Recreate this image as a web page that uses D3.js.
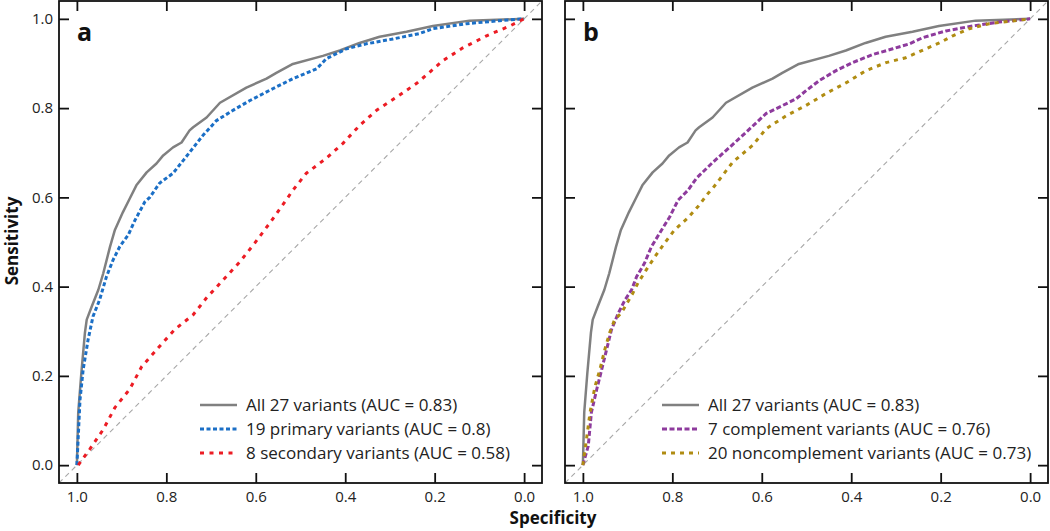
<!DOCTYPE html>
<html>
<head>
<meta charset="utf-8">
<script src="https://cdn.jsdelivr.net/npm/d3@7"></script>
<style>
  body { margin: 0; background: #fff; }
  text { font-family: "Open Sans", "Noto Sans", sans-serif; }
</style>
</head>
<body>
<div id="chart"></div>
<script>
// ROC curves, each point is [specificity, sensitivity]
var allVariants = [[1,0],[0.997,0.118],[0.99,0.207],[0.982,0.297],[0.978,0.326],[0.967,0.355],[0.952,0.393],[0.941,0.43],[0.926,0.489],[0.915,0.527],[0.897,0.567],[0.882,0.597],[0.867,0.627],[0.844,0.656],[0.822,0.676],[0.807,0.694],[0.785,0.712],[0.766,0.723],[0.748,0.75],[0.74,0.757],[0.71,0.779],[0.68,0.812],[0.621,0.846],[0.576,0.866],[0.554,0.879],[0.517,0.899],[0.45,0.917],[0.412,0.929],[0.368,0.946],[0.323,0.96],[0.263,0.971],[0.204,0.984],[0.122,0.996],[0,1]];

var primaryVariants = [[1,0],[0.993,0.147],[0.986,0.214],[0.975,0.281],[0.964,0.333],[0.949,0.371],[0.934,0.422],[0.919,0.46],[0.904,0.49],[0.885,0.516],[0.87,0.549],[0.848,0.59],[0.837,0.6],[0.815,0.632],[0.785,0.654],[0.762,0.683],[0.74,0.711],[0.718,0.739],[0.688,0.772],[0.651,0.795],[0.613,0.817],[0.561,0.844],[0.517,0.866],[0.464,0.888],[0.442,0.911],[0.397,0.933],[0.353,0.944],[0.293,0.955],[0.234,0.967],[0.204,0.978],[0.129,0.989],[0.055,0.996],[0,1]];

var secondaryVariants = [[0.997,0],[0.971,0.036],[0.941,0.08],[0.915,0.129],[0.882,0.17],[0.855,0.221],[0.818,0.263],[0.781,0.304],[0.74,0.337],[0.71,0.375],[0.673,0.415],[0.636,0.455],[0.602,0.498],[0.569,0.542],[0.535,0.59],[0.517,0.616],[0.487,0.654],[0.442,0.688],[0.405,0.721],[0.368,0.761],[0.33,0.795],[0.286,0.824],[0.241,0.855],[0.215,0.877],[0.182,0.906],[0.137,0.935],[0.084,0.962],[0.032,0.984],[0,1]];

var complementVariants = [[1,0],[0.988,0.043],[0.981,0.118],[0.969,0.17],[0.958,0.214],[0.947,0.259],[0.936,0.304],[0.921,0.34],[0.906,0.37],[0.891,0.393],[0.88,0.422],[0.862,0.453],[0.847,0.489],[0.824,0.527],[0.806,0.556],[0.787,0.594],[0.765,0.616],[0.746,0.643],[0.709,0.679],[0.672,0.712],[0.635,0.746],[0.59,0.788],[0.553,0.806],[0.523,0.821],[0.501,0.839],[0.471,0.862],[0.434,0.884],[0.397,0.902],[0.352,0.92],[0.307,0.933],[0.27,0.944],[0.24,0.958],[0.188,0.973],[0.129,0.984],[0.069,0.993],[0,1]];

var noncomplementVariants = [[1,0],[0.992,0.058],[0.984,0.118],[0.973,0.176],[0.962,0.214],[0.951,0.259],[0.94,0.297],[0.929,0.326],[0.914,0.341],[0.888,0.386],[0.877,0.408],[0.858,0.438],[0.839,0.467],[0.817,0.498],[0.795,0.527],[0.765,0.554],[0.743,0.579],[0.72,0.609],[0.709,0.621],[0.665,0.679],[0.62,0.717],[0.59,0.754],[0.545,0.783],[0.501,0.806],[0.456,0.833],[0.411,0.857],[0.367,0.884],[0.322,0.902],[0.278,0.913],[0.233,0.933],[0.203,0.946],[0.173,0.962],[0.136,0.978],[0.092,0.989],[0,1]];

var tickValues = [1.0, 0.8, 0.6, 0.4, 0.2, 0.0];

var panelA = [
    { label: "All 27 variants (AUC = 0.83)", data: allVariants, color: "#808080", dash: null, width: 2.5 },
    { label: "19 primary variants (AUC = 0.8)", data: primaryVariants, color: "#1b6fc6", dash: "4,2.5", width: 3 },
    { label: "8 secondary variants (AUC = 0.58)", data: secondaryVariants, color: "#ec1c24", dash: "4,5.5", width: 3 }
];
var panelB = [
    { label: "All 27 variants (AUC = 0.83)", data: allVariants, color: "#808080", dash: null, width: 2.5 },
    { label: "7 complement variants (AUC = 0.76)", data: complementVariants, color: "#8e3b9d", dash: "5,2.5", width: 3 },
    { label: "20 noncomplement variants (AUC = 0.73)", data: noncomplementVariants, color: "#b08c12", dash: "4,5", width: 3 }
];

var W = 1050, H = 531;
var svg = d3.select("#chart").append("svg")
    .attr("width", W)
    .attr("height", H);

var y = d3.scaleLinear().domain([-0.04, 1.04]).range([483, 1]);

function drawPanel(left, letter, series, legendX, showY) {
    var x = d3.scaleLinear().domain([1.04, -0.04]).range([left, left + 483]);
    var g = svg.append("g");

    // chance line, corner to corner
    g.append("line")
        .attr("x1", x(1.04)).attr("y1", y(-0.04))
        .attr("x2", x(-0.04)).attr("y2", y(1.04))
        .attr("stroke", "#a8a8a8")
        .attr("stroke-width", 1.1)
        .attr("stroke-dasharray", "5,4");

    var line = d3.line()
        .x(function (d) { return x(d[0]); })
        .y(function (d) { return y(d[1]); });

    series.forEach(function (s) {
        g.append("path")
            .datum(s.data)
            .attr("fill", "none")
            .attr("stroke", s.color)
            .attr("stroke-width", s.width)
            .attr("stroke-dasharray", s.dash)
            .attr("stroke-linejoin", "round")
            .attr("d", line);
    });

    // frame
    g.append("rect")
        .attr("x", x(1.04)).attr("y", y(1.04))
        .attr("width", x(-0.04) - x(1.04))
        .attr("height", y(-0.04) - y(1.04))
        .attr("fill", "none")
        .attr("stroke", "#111")
        .attr("stroke-width", 1.8);

    // axes with inward ticks on all four sides
    var fmt = d3.format(".1f");
    var axB = g.append("g").attr("transform", "translate(0," + y(-0.04) + ")")
        .call(d3.axisBottom(x).tickValues(tickValues).tickSize(-10).tickPadding(8).tickFormat(fmt));
    var axT = g.append("g").attr("transform", "translate(0," + y(1.04) + ")")
        .call(d3.axisTop(x).tickValues(tickValues).tickSize(-10).tickFormat(""));
    var axL = g.append("g").attr("transform", "translate(" + x(1.04) + ",0)")
        .call(d3.axisLeft(y).tickValues(tickValues).tickSize(-10).tickPadding(6).tickFormat(showY ? fmt : ""));
    var axR = g.append("g").attr("transform", "translate(" + x(-0.04) + ",0)")
        .call(d3.axisRight(y).tickValues(tickValues).tickSize(-10).tickFormat(""));

    [axB, axT, axL, axR].forEach(function (a) {
        a.select(".domain").remove();
        a.selectAll(".tick line").attr("stroke", "#111").attr("stroke-width", 1.8);
        a.selectAll(".tick text")
            .attr("fill", "#222")
            .style("font-family", "'Open Sans', 'Noto Sans', sans-serif")
            .style("font-size", "15px");
    });

    // panel letter
    g.append("text")
        .attr("x", x(1.0))
        .attr("y", 41)
        .attr("font-size", 25)
        .attr("font-weight", "bold")
        .attr("fill", "#111")
        .text(letter);

    // legend
    var rowY = [405, 429, 453];
    series.forEach(function (s, i) {
        g.append("line")
            .attr("x1", legendX).attr("x2", legendX + 37)
            .attr("y1", rowY[i]).attr("y2", rowY[i])
            .attr("stroke", s.color)
            .attr("stroke-width", s.width)
            .attr("stroke-dasharray", s.dash);
        g.append("text")
            .attr("x", legendX + 46)
            .attr("y", rowY[i])
            .attr("dy", "0.35em")
            .attr("font-size", 17)
            .attr("fill", "#222")
            .text(s.label);
    });
}

drawPanel(59, "a", panelA, 200, true);
drawPanel(565, "b", panelB, 662, false);

// axis titles
svg.append("text")
    .attr("x", 553)
    .attr("y", 524)
    .attr("text-anchor", "middle")
    .attr("font-size", 17)
    .attr("font-weight", "bold")
    .attr("fill", "#111")
    .text("Specificity");

svg.append("text")
    .attr("transform", "translate(18,241) rotate(-90)")
    .attr("text-anchor", "middle")
    .attr("font-size", 17)
    .attr("font-weight", "bold")
    .attr("fill", "#111")
    .text("Sensitivity");
</script>
</body>
</html>
